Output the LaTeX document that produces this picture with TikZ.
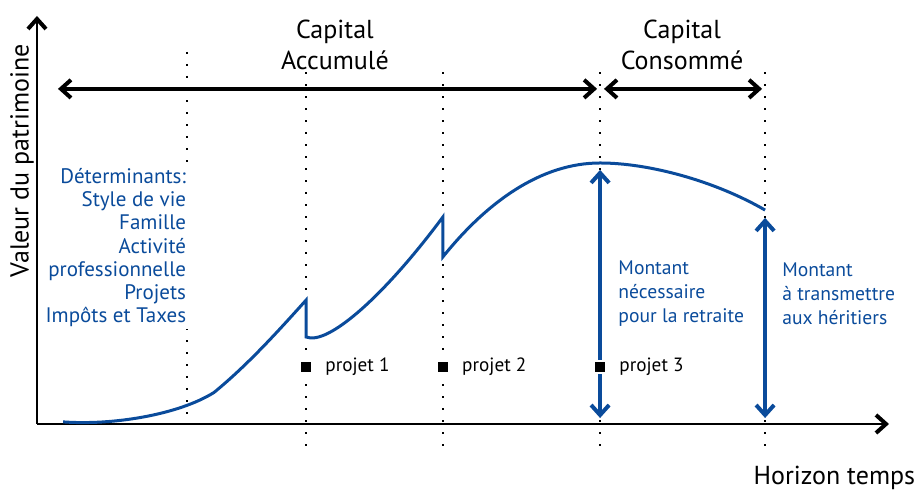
\documentclass[tikz,border=0pt]{standalone}
\usepackage{fontspec}
\setmainfont{PT Sans}
\usetikzlibrary{arrows.meta}
\definecolor{patblue}{RGB}{10,75,155}
\tikzset{
  dots/.style={black, line width=.9pt, dash pattern=on .9pt off 5.1pt},
  chev/.style={>={Straight Barb[length=5pt,width=9pt,line width=2pt]}}
}

\begin{document}
\begin{tikzpicture}[scale=.527, chev]
\useasboundingbox (-1.233,-2.233) rectangle (29.267,14.133);
% axes
\draw[black, line width=1pt, ->] (0,0) -- (0,13.6);
\draw[black, line width=1pt, ->] (0,0) -- (28.4,0);
\node[rotate=90, font=\fontsize{13}{15}\selectfont] (valeur) at (-.5,8.77) {Valeur du patrimoine};
\node[font=\fontsize{13}{15}\selectfont] (horizon) at (26.58,-1.8) {Horizon temps};
% dotted markers
\draw[dots] (5,12.4) -- (5,0);
\foreach \x in {8.97,13.53,18.77,24.27}
  \draw[dots] (\x,11.73) -- (\x,-.93);
% periods
\draw[black, line width=1.7pt, <->] (.7,11.17) -- (18.67,11.17);
\draw[black, line width=1.7pt, <->] (18.9,11.17) -- (24.17,11.17);
\node[align=center, font=\fontsize{13}{15.5}\selectfont] (accu) at (9.93,12.63) {Capital\\Accumulé};
\node[align=center, font=\fontsize{13}{15.5}\selectfont] (conso) at (21.5,12.63) {Capital\\Consommé};
% patrimoine
\draw[patblue, line width=1.5pt, line join=miter]
  (.87,.07) .. controls (2.5,-.05) and (4.7,.3) .. (5.9,1.05)
  .. controls (7,1.95) and (8,3.05) .. (8.97,4.13)
  -- (8.97,2.9) .. controls (9.7,2.6) and (11.6,4.3) .. (13.53,6.9)
  -- (13.53,5.57) .. controls (15,7.4) and (16.8,8.7) .. (18.77,8.7)
  .. controls (20.4,8.7) and (22.6,8.1) .. (24.27,7.13);
\node[align=right, anchor=east, fill=white, inner sep=1pt, text=patblue,
  font=\fontsize{10.5}{11.6}\selectfont] (determ) at (5.05,5.88)
  {Déterminants:\\Style de vie\\Famille\\Activité\\professionnelle\\Projets\\Impôts et Taxes};
% montants
\draw[patblue, line width=1.6pt, <->] (18.77,.2) -- (18.77,8.47);
\draw[patblue, line width=1.6pt, <->] (24.27,.2) -- (24.27,6.87);
\node[align=left, anchor=west, inner sep=0, text=patblue,
  font=\fontsize{9.8}{12}\selectfont] (retraite) at (19.37,4.33)
  {Montant\\nécessaire\\pour la retraite};
\node[align=left, anchor=west, inner sep=0, text=patblue,
  font=\fontsize{9.8}{12}\selectfont] (heritiers) at (24.83,4.33)
  {Montant\\à transmettre\\aux héritiers};
% projets
\foreach \x/\n in {8.97/1,13.53/2,18.77/3}{
  \node[fill=black, draw=white, line width=1.2pt, minimum size=6pt, inner sep=0] (p\n) at (\x,1.9) {};
  \node[anchor=west, inner sep=0, font=\fontsize{9.6}{12}\selectfont] (lp\n) at (\x+.63,1.9) {projet \n};
}
\end{tikzpicture}
\end{document}
